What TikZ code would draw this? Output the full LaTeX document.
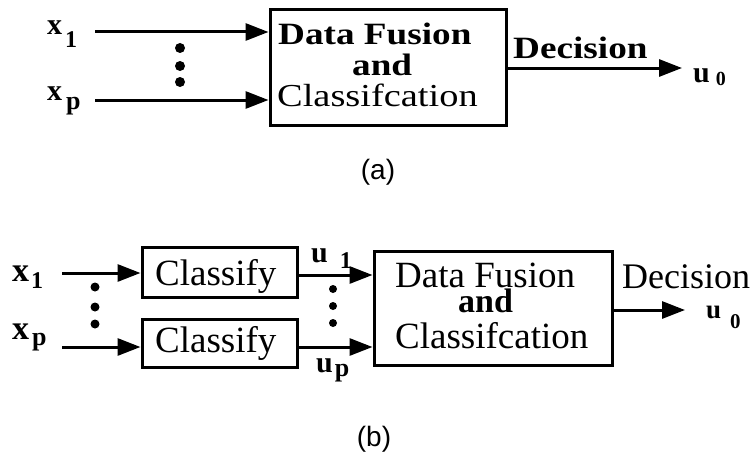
\documentclass[tikz,border=0pt]{standalone}
\usepackage{fontspec}
\setmainfont{Liberation Serif}
\newfontfamily\wa[FakeStretch=1.2]{Liberation Serif}
\newfontfamily\sfl{Liberation Sans}
\usetikzlibrary{arrows.meta}
\newcommand\fsz[1]{\fontsize{#1}{#1}\selectfont}
\tikzset{
  box/.style={draw, line width=3pt, inner sep=0pt},
  arr/.style={line width=3pt, -{Triangle[length=23pt,width=17pt]}},
  txt/.style={inner sep=0pt, anchor=base west},
  lbl/.style={inner sep=0pt, anchor=base west, font=\bfseries},
  dotn/.style={circle, fill, inner sep=0pt, minimum size=#1},
}
\begin{document}
\begin{tikzpicture}[x=1pt,y=-1pt]
\useasboundingbox (0,0) rectangle (751,452);
% ---------------- panel (a)
\node[box, minimum width=236pt, minimum height=115pt] (fa) at (388,67.5) {};
\node[txt] (fa1) at (278,45) {\wa\bfseries\fsz{31}Data Fusion};
\node[txt] (fa2) at (352,75) {\wa\bfseries\fsz{31}and};
\node[txt] (fa3) at (277,106) {\wa\fsz{32}Classifcation};
\node[txt] (deca) at (513,58) {\wa\bfseries\fsz{31}Decision};
\node[lbl] (xa1) at (47,35) {\fsz{30}x\kern3pt\raisebox{-13pt}{\fsz{24}1}};
\node[lbl] (xap) at (47,100) {\fsz{30}x\kern4pt\raisebox{-9.5pt}{\fsz{26}p}};
\node[lbl] (ua0) at (693,82) {\fsz{30}u\kern6pt\raisebox{-3pt}{\fsz{20}0}};
\coordinate (a1s) at (95,32);
\coordinate (aps) at (95,100);
\coordinate (aout) at (682,68);
\draw[arr] (a1s) -- (a1s -| fa.west);
\draw[arr] (aps) -- (aps -| fa.west);
\draw[arr] (fa.east |- aout) -- (aout);
\node[dotn=10pt] (da1) at (180,48) {};
\node[dotn=10pt] (da2) at (180,66) {};
\node[dotn=10pt] (da3) at (180,82) {};
\node[anchor=base, inner sep=0pt] (capa) at (378,179) {\sfl\fsz{28}(a)};
% ---------------- panel (b)
\node[box, minimum width=155pt, minimum height=50pt] (c1) at (219.5,272) {};
\node[box, minimum width=155pt, minimum height=48pt] (c2) at (219.5,343) {};
\node[txt] (c1t) at (155,285) {\fsz{37}Classify};
\node[txt] (c2t) at (155,352) {\fsz{37}Classify};
\node[box, minimum width=238pt, minimum height=114pt] (fb) at (493,308) {};
\node[txt] (fb1) at (395,287) {\fsz{37}Data Fusion};
\node[txt] (fb2) at (458,312) {\bfseries\fsz{34}and};
\node[txt] (fb3) at (395,348) {\fsz{37}Classifcation};
\node[txt] (decb) at (622,288) {\fsz{36}Decision};
\node[lbl] (xb1) at (12,281) {\fsz{34}x\kern2pt\raisebox{-7pt}{\fsz{24}1}};
\node[lbl] (xbp) at (12,339) {\fsz{34}x\kern3pt\raisebox{-6pt}{\fsz{26}p}};
\node[lbl] (ub1) at (311,262) {\fsz{30}u\kern12pt\raisebox{-6pt}{\fsz{24}1}};
\node[lbl] (ubp) at (316,372) {\fsz{30}u\kern2pt\raisebox{-4.5pt}{\fsz{26}p}};
\node[lbl] (ub0) at (706,318) {\fsz{27}u\kern9pt\raisebox{-10pt}{\fsz{21}0}};
\coordinate (b1s) at (62,273);
\coordinate (bps) at (62,347);
\coordinate (bout) at (685,310);
\draw[arr] (b1s) -- (b1s -| c1.west);
\draw[arr] (bps) -- (bps -| c2.west);
\draw[arr] (c1.east |- 0,275) -- (fb.west |- 0,275);
\draw[arr] (c2.east |- 0,347) -- (fb.west |- 0,347);
\draw[arr] (fb.east |- bout) -- (bout);
\node[dotn=9pt] (db1) at (95,287) {};
\node[dotn=9pt] (db2) at (95,307) {};
\node[dotn=9pt] (db3) at (95,324) {};
\node[dotn=8pt] (dc1) at (333,289) {};
\node[dotn=8pt] (dc2) at (333,306) {};
\node[dotn=8pt] (dc3) at (333,323) {};
\node[anchor=base, inner sep=0pt] (capb) at (374,446) {\sfl\fsz{28}(b)};
\end{tikzpicture}
\end{document}
